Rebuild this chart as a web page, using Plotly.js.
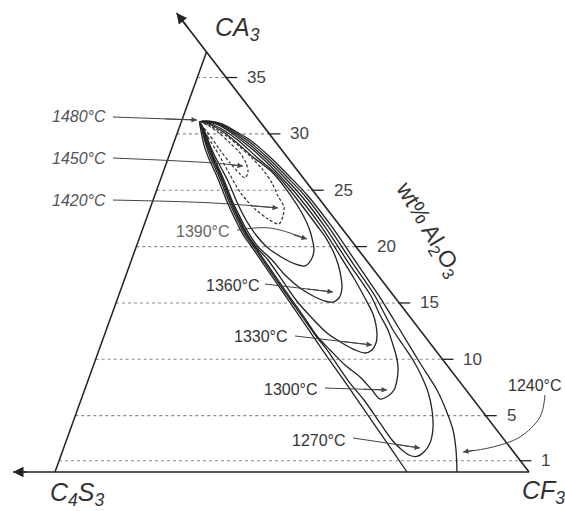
<!DOCTYPE html>
<html><head><meta charset="utf-8">
<script src="https://cdn.plot.ly/plotly-3.0.1.min.js"></script>
<style>html,body{margin:0;padding:0;background:#fff}#chart{width:565px;height:511px}</style>
</head><body><div id="chart"></div>
<script>
// Diagram coordinates: x = position along the C4S3–CF3 base, y = wt% Al2O3
const cornerNames = ['CA<sub>3</sub>', 'C<sub>4</sub>S<sub>3</sub>', 'CF<sub>3</sub>'];
const cornerX = [30.3, 0, 94.8];
const cornerY = [37.27, 0, 0];
const alTicks = [1, 5, 10, 15, 20, 25, 30, 35];
const isoNames = ['1480°C', '1450°C', '1420°C', '1390°C', '1360°C', '1330°C', '1300°C', '1270°C', '1240°C'];

const iso1240X = [70.4,67.3,64.2,61.1,58.0,54.8,51.7,48.6,45.5,42.4,39.3,37.7,36.5,35.4,34.4,33.5,32.6,31.6,30.6,29.8,29.3,29.1,29.0,
                  31.0,33.4,36.0,39.0,43.0,47.0,50.6,55.4,60.2,64.8,69.0,73.0,76.4,78.2,79.6,80.2,80.4];
const iso1240Y = [0,2,4,6,8,10,12,14,16,18,20,21,22,23,24,25,26,27,28,29,30,30.5,31.06,
                  31.14,30.88,30.26,29.46,27.95,26.18,24.49,21.74,18.63,15.62,12.60,9.67,7.28,5.50,3.73,1.95,0];
const iso1270X = [29.0,29.3,30.2,31.0,32.0,33.0,33.9,34.8,35.8,36.9,38.1,39.7,42.8,45.9,49.1,52.3,54.4,58.8,61.8,65.0,67.4,69.4,70.8,72.4,
                  73.8,75.0,75.6,75.4,74.6,73.2,71.6,69.6,67.6,64.0,59.4,54.7,50.0,46.4,42.4,38.4,35.2,33.0,30.6,29.0];
const iso1270Y = [31.06,30.5,29,28,27,26,25,24,23,22,21,20,18,16,14,12,10.83,8,6.39,4.35,2.84,1.95,1.51,1.38,
                  1.77,2.57,3.90,5.50,7.10,8.61,9.94,11.27,12.60,15.62,18.63,21.74,24.49,26.18,27.95,29.46,30.35,30.88,31.1,31.06];
const iso1300X = [29.0,29.4,30.4,31.3,32.3,33.3,34.2,35.1,36.1,37.2,38.4,40.0,43.1,46.2,49.4,52.5,55.0,58.0,61.0,63.4,65.0,
                  66.6,67.8,68.4,68.6,68.2,67.6,66.6,65.0,63.2,58.6,54.0,49.3,45.8,41.8,37.8,34.8,32.6,30.2,29.0];
const iso1300Y = [31.06,30.5,29,28,27,26,25,24,23,22,21,20,18,16,14,12,10.83,9.49,8.43,7.28,6.48,
                  6.74,7.28,8.16,9.32,10.38,11.27,12.60,13.93,15.62,18.63,21.74,24.49,26.18,27.95,29.46,30.35,30.88,31.08,31.06];
const iso1330X = [29.0,29.5,30.6,31.5,32.5,33.5,34.4,35.3,36.3,37.4,38.6,40.2,42.6,45.4,48.2,51.2,54.4,57.4,60.0,62.0,
                  63.4,64.2,64.4,64.2,63.6,62.2,60.0,57.8,53.3,48.6,45.2,41.2,37.2,34.4,32.2,30.0,29.0];
const iso1330Y = [31.06,30.5,29,28,27,26,25,24,23,22,21,20,18.81,17.04,15.26,13.75,12.33,11.45,10.83,10.56,
                  10.83,11.45,12.16,13.04,14.02,15.26,17.04,18.63,21.74,24.49,26.18,27.95,29.46,30.35,30.88,31.06,31.06];
const iso1360X = [29.0,29.6,30.8,31.7,32.7,33.7,34.6,35.5,36.6,37.7,39.0,40.6,43.4,46.0,49.0,52.0,54.0,55.6,
                  56.8,57.4,57.2,56.6,55.6,54.2,52.6,47.9,44.2,40.3,36.8,34.0,31.8,29.8,29.0];
const iso1360Y = [31.06,30.5,29,28,27,26,25,24,23,22,21,20,18.81,17.48,16.33,15.53,15.17,15.08,
                  15.44,16.33,17.30,18.46,19.61,20.76,21.74,24.49,26.44,27.95,29.37,30.26,30.79,31.06,31.06];
const iso1390X = [29.0,29.7,31.0,32.0,33.2,34.4,35.4,36.2,38.2,40.2,42.6,45.6,48.0,50.0,
                  51.2,51.8,51.4,50.8,49.6,47.2,43.6,39.6,36.2,33.4,31.2,29.6,29.0];
const iso1390Y = [31.06,30.5,29,28,27,26,25,24.13,22.36,21.03,19.88,18.99,18.46,18.28,
                  18.81,19.70,20.76,21.65,22.80,24.49,26.53,27.95,29.28,30.26,30.79,31.06,31.06];
const iso1420X = [29.0,30.6,32.8,34.8,37.0,40.0,42.6,44.8,45.6,45.8,44.6,43.4,41.6,39.4,37.0,34.6,32.2,30.2,29.0];
const iso1420Y = [31.06,29.72,28.13,26.53,24.84,23.34,22.45,22.01,22.71,23.51,24.49,25.64,26.80,27.86,28.84,29.72,30.43,30.88,31.06];
const iso1450X = [29.0,31.2,33.0,35.0,37.0,38.0,38.6,38.2,37.0,35.0,32.8,30.8,29.0];
const iso1450Y = [31.06,29.72,28.57,27.42,26.44,26.09,26.62,27.42,28.31,29.19,30.08,30.70,31.06];

// ---------- drawing ----------
const FONT = 'Liberation Sans, Arial, sans-serif';
const ink = '#222';
const traces = [];
const annotations = [];
const apexX = cornerX[0], apexY = cornerY[0], cfX = cornerX[2];
const hypX = y => cfX + (apexX - cfX) * y / apexY;
const leftX = y => apexX * y / apexY;

// dotted guide lines and ticks
alTicks.forEach(t => {
  traces.push({x: [leftX(t), hypX(t)], y: [t, t], mode: 'lines',
    line: {color: '#8a8a8a', width: 1.1, dash: 'dot'}, hoverinfo: 'skip'});
  traces.push({x: [hypX(t) - 0.2, hypX(t) + 2.2], y: [t, t], mode: 'lines',
    line: {color: ink, width: 1.3}, hoverinfo: 'skip'});
  annotations.push({x: hypX(t) + 3.8, y: t, xref: 'x', yref: 'y', text: String(t), showarrow: false,
    xanchor: 'left', yanchor: 'middle', font: {family: FONT, size: 17, color: '#444'}});
});

// triangle edges (with arrowed extensions)
const topTipY = 40.73, baseTipX = -8.4;
traces.push({x: [cfX, baseTipX], y: [0, 0], mode: 'lines', line: {color: ink, width: 1.6}, hoverinfo: 'skip'});
traces.push({x: [cornerX[1], apexX], y: [cornerY[1], apexY], mode: 'lines', line: {color: ink, width: 1.5}, hoverinfo: 'skip'});
traces.push({x: [cfX, hypX(topTipY)], y: [0, topTipY], mode: 'lines', line: {color: ink, width: 1.6}, hoverinfo: 'skip'});
annotations.push({x: hypX(topTipY), y: topTipY, ax: hypX(topTipY - 1.5), ay: topTipY - 1.5, xref: 'x', yref: 'y', axref: 'x', ayref: 'y',
  text: '', showarrow: true, arrowhead: 2, arrowsize: 1.4, arrowwidth: 1.5, arrowcolor: ink});
annotations.push({x: baseTipX, y: 0, ax: baseTipX + 3, ay: 0, xref: 'x', yref: 'y', axref: 'x', ayref: 'y',
  text: '', showarrow: true, arrowhead: 2, arrowsize: 1.4, arrowwidth: 1.5, arrowcolor: ink});

// isotherms
const solid = [[iso1240X, iso1240Y], [iso1270X, iso1270Y], [iso1300X, iso1300Y], [iso1330X, iso1330Y], [iso1360X, iso1360Y], [iso1390X, iso1390Y]];
solid.forEach(([xs, ys]) => traces.push({x: xs, y: ys, mode: 'lines',
  line: {color: ink, width: 1.3, shape: 'spline', smoothing: 0.8}, hoverinfo: 'skip'}));
[[iso1420X, iso1420Y], [iso1450X, iso1450Y]].forEach(([xs, ys]) => traces.push({x: xs, y: ys, mode: 'lines',
  line: {color: '#333', width: 1.2, dash: '3px,2px', shape: 'spline', smoothing: 0.8}, hoverinfo: 'skip'}));

// corner labels
const cornerLabelPos = [[36.4, 39.3], [4.4, -1.95], [97.6, -1.8]];
cornerNames.forEach((n, i) => annotations.push({x: cornerLabelPos[i][0], y: cornerLabelPos[i][1], xref: 'x', yref: 'y',
  text: '<i>' + n + '</i>', showarrow: false, font: {family: FONT, size: 25, color: '#333'}}));

// axis title
annotations.push({x: 74.6, y: 21.5, xref: 'x', yref: 'y', text: 'wt% Al<sub>2</sub>O<sub>3</sub>', showarrow: false,
  textangle: 59, font: {family: FONT, size: 23, color: '#333'}});

// temperature labels with leaders
const labelSpec = [
  {tx: 10.6, ty: 31.5, it: true, c: '#555', pts: [[11.6, 31.5], [28.4, 31.23]]},
  {tx: 10.6, ty: 27.86, it: true, c: '#555', pts: [[11.6, 27.86], [31.6, 27.42], [37.6, 27.15]]},
  {tx: 10.6, ty: 24.13, it: true, c: '#555', pts: [[11.6, 24.13], [31.6, 23.87], [44.6, 23.43]]},
  {tx: 35.4, ty: 21.3, it: false, c: '#666', pts: [[36.4, 21.47], [43.0, 21.65], [50.4, 20.67]]},
  {tx: 41.4, ty: 16.59, it: false, c: '#333', pts: [[42.0, 16.68], [55.6, 15.97]]},
  {tx: 47.0, ty: 11.98, it: false, c: '#333', pts: [[48.0, 12.07], [63.4, 11.27]]},
  {tx: 53.0, ty: 7.36, it: false, c: '#333', pts: [[54.0, 7.45], [66.4, 7.28]]},
  {tx: 58.6, ty: 2.84, it: false, c: '#333', pts: [[59.6, 3.02], [73.0, 2.13]]},
  {tx: 95.9, ty: 7.72, it: false, c: '#333', center: true, pts: [[98.0, 6.83], [97.0, 4.88], [93.0, 3.11], [87.6, 2.22], [81.6, 1.77]]}
];
labelSpec.forEach((s, i) => {
  annotations.push({x: s.tx, y: s.ty, xref: 'x', yref: 'y', showarrow: false,
    text: s.it ? '<i>' + isoNames[i] + '</i>' : isoNames[i],
    xanchor: s.center ? 'center' : 'right', yanchor: 'middle',
    font: {family: FONT, size: 16, color: s.c}});
  traces.push({x: s.pts.map(p => p[0]), y: s.pts.map(p => p[1]), mode: 'lines',
    line: {color: '#444', width: 1, shape: 'spline'}, hoverinfo: 'skip'});
  const n = s.pts.length;
  annotations.push({x: s.pts[n - 1][0], y: s.pts[n - 1][1], ax: s.pts[n - 2][0] + (s.pts[n-1][0]-s.pts[n-2][0])*0.6,
    ay: s.pts[n - 2][1] + (s.pts[n-1][1]-s.pts[n-2][1])*0.6, xref: 'x', yref: 'y', axref: 'x', ayref: 'y',
    text: '', showarrow: true, arrowhead: 2, arrowsize: 1.1, arrowwidth: 1, arrowcolor: '#444'});
});

const layout = {
  width: 565, height: 511, autosize: false,
  margin: {l: 0, r: 0, t: 0, b: 0, pad: 0},
  paper_bgcolor: '#fff', plot_bgcolor: '#fff', showlegend: false,
  xaxis: {range: [-11, 102], visible: false, fixedrange: true},
  yaxis: {range: [-3.46, 41.88], visible: false, fixedrange: true},
  annotations: annotations
};
Plotly.newPlot('chart', traces, layout, {staticPlot: true, displayModeBar: false});
</script></body></html>
